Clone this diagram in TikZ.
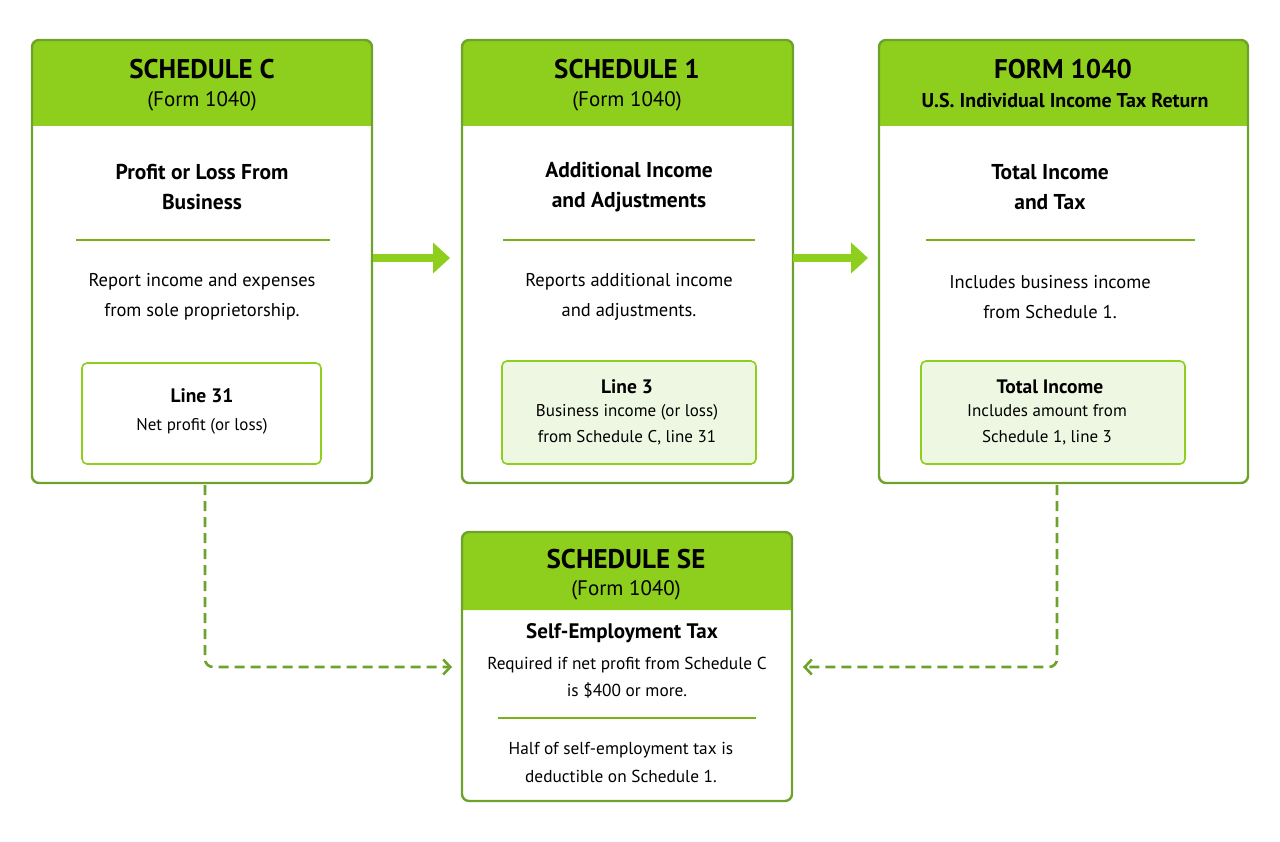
\documentclass[tikz,border=0pt]{standalone}
\usepackage{fontspec}
\setmainfont{PT Sans}
\usetikzlibrary{arrows.meta,positioning,calc}
\definecolor{headgreen}{HTML}{8DCF1C}
\definecolor{edgegreen}{HTML}{6EA22C}
\definecolor{palegreen}{HTML}{EEF7E2}
\definecolor{arrowgreen}{HTML}{8DCF1C}
\tikzset{
  card/.style={draw=edgegreen, line width=2.4pt, rounded corners=7pt, fill=white},
  head/.style={fill=headgreen},
  rule/.style={draw=headgreen!85!black, line width=1.8pt},
  inbox/.style={draw=headgreen, line width=1.6pt, rounded corners=5pt},
  ttl/.style={font=\fontsize{27}{30}\selectfont\bfseries},
  sub/.style={font=\fontsize{21}{24}\selectfont},
  sub2/.style={font=\fontsize{19.5}{22}\selectfont\bfseries},
  hd/.style={font=\fontsize{21.5}{30}\selectfont\bfseries, align=center},
  txt/.style={font=\fontsize{18.5}{30}\selectfont, align=center},
  small/.style={font=\fontsize{17}{26}\selectfont, align=center},
  flow/.style={-{Triangle[length=17pt,width=30pt]}, draw=arrowgreen, line width=8pt},
  link/.style={draw=edgegreen, line width=2.6pt, dash pattern=on 10pt off 6pt, rounded corners=8pt, -{Straight Barb[length=7pt,width=15pt]}}
}
% card: name, x1, y1, x2, y2, bottom of header
\newcommand{\taxcard}[6]{%
  \fill[head, rounded corners=7pt] (#2,#6) -- (#2,#3) -- (#4,#3) [sharp corners] -- (#4,#6) -- cycle;
  \draw[card, fill=none] (#2,#3) rectangle (#4,#5);
  \coordinate (#1-nw) at (#2,#3);
  \coordinate (#1-se) at (#4,#5);
}
\begin{document}
\begin{tikzpicture}[x=1pt,y=-1pt]
\useasboundingbox (0,0) rectangle (1280,842);
\taxcard{schc}{32}{40}{372}{483}{126}
\taxcard{schone}{462}{40}{793}{483}{126}
\taxcard{form}{879}{40}{1248}{483}{126}
\taxcard{schse}{462}{532}{792}{801}{610}

% Schedule C
\node[ttl] (schc-t) at (202,69) {SCHEDULE C};
\node[sub] (schc-s) at (202,101) {(Form 1040)};
\node[hd] (schc-h) at (202,187) {Profit or Loss From\\Business};
\draw[rule] (76,240) -- (330,240);
\node[txt] (schc-b) at (202,297) {Report income and expenses\\from sole proprietorship.};
\draw[inbox, fill=white] (82,363) rectangle (321,464);
\node[sub2] (schc-l) at (202,396) {Line 31};
\node[small] (schc-d) at (202,426) {Net profit (or loss)};

% Schedule 1
\node[ttl] (schone-t) at (627,69) {SCHEDULE 1};
\node[sub] (schone-s) at (627,101) {(Form 1040)};
\node[hd] (schone-h) at (629,187) {Additional Income\\and Adjustments};
\draw[rule] (503,240) -- (755,240);
\node[txt] (schone-b) at (629,297) {Reports additional income\\and adjustments.};
\draw[inbox, fill=palegreen] (502,361) rectangle (756,464);
\node[sub2] (schone-l) at (627,387) {Line 3};
\node[small] (schone-d) at (627,425) {Business income (or loss)\\from Schedule C, line 31};

% Form 1040
\node[ttl] (form-t) at (1063,69) {FORM 1040};
\node[sub2, font=\fontsize{20}{22}\selectfont\bfseries] (form-s) at (1065,101) {U.S. Individual Income Tax Return};
\node[hd] (form-h) at (1050,187) {Total Income\\and Tax};
\draw[rule] (926,240) -- (1195,240);
\node[txt] (form-b) at (1050,297) {Includes business income\\from Schedule 1.};
\draw[inbox, fill=palegreen] (921,361) rectangle (1185,464);
\node[sub2] (form-l) at (1050,387) {Total Income};
\node[small] (form-d) at (1047,425) {Includes amount from\\Schedule 1, line 3};

% Schedule SE
\node[ttl] (schse-t) at (626,559) {SCHEDULE SE};
\node[sub] (schse-s) at (626,590) {(Form 1040)};
\node[sub2, font=\fontsize{21}{24}\selectfont\bfseries] (schse-h) at (622,633) {Self-Employment Tax};
\node[small, font=\fontsize{17.3}{27}\selectfont] (schse-b) at (627,678) {Required if net profit from Schedule C\\is \$400 or more.};
\draw[rule] (498,718) -- (756,718);
\node[small, font=\fontsize{17.3}{28}\selectfont] (schse-n) at (621,762) {Half of self-employment tax is\\deductible on Schedule 1.};

% connectors
\coordinate (c-out) at (205,485);
\coordinate (se-in-l) at (452,667);
\coordinate (f-out) at (1057,485);
\coordinate (se-in-r) at (803,667);
\draw[flow] (373,258) -- (450,258);
\draw[flow] (793,258) -- (868,258);
\draw[link] (c-out) |- (se-in-l);
\draw[link] (f-out) |- (se-in-r);
\end{tikzpicture}
\end{document}
